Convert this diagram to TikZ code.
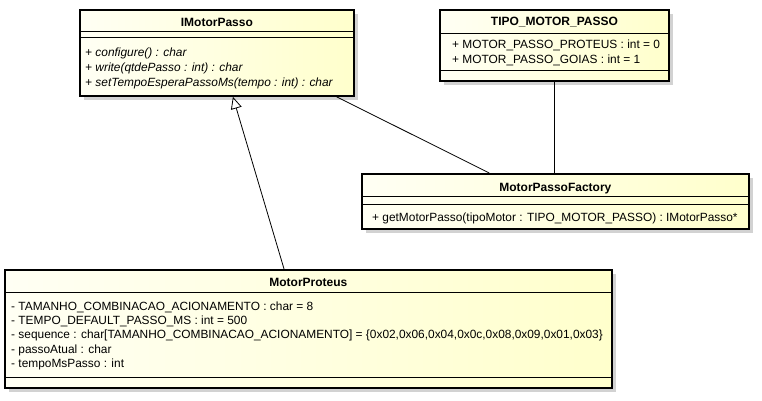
\documentclass[tikz,border=0pt]{standalone}
\usepackage{fontspec}
\setmainfont{Liberation Sans}
\usepackage{tikz}
\usetikzlibrary{arrows.meta, positioning, calc, shadows}
\definecolor{umlpale}{RGB}{255, 255, 244}
\definecolor{umlcream}{RGB}{255, 255, 204}
\definecolor{umlshadow}{RGB}{210, 210, 210}

\begin{document}
\begin{tikzpicture}[x=1pt, y=-1pt,
    classbox/.style={rectangle, draw=black, line width=1.8pt, anchor=north west, inner sep=0pt,
                     left color=umlpale, right color=umlcream,
                     drop shadow={shadow xshift=4pt, shadow yshift=-4pt, fill=umlshadow, opacity=1}},
    classname/.style={font=\fontsize{12}{14}\selectfont\bfseries, inner sep=0pt, text height=8.5pt, text depth=0pt},
    member/.style={font=\fontsize{11.9}{14}\selectfont, anchor=west, inner sep=0pt, text height=8.5pt, text depth=0pt},
    op/.style={member, font=\fontsize{11.9}{14}\selectfont\itshape},
    sep/.style={line width=0.9pt},
    link/.style={line width=0.8pt},
    inherit/.style={line width=0.8pt, -{Triangle[open, length=12pt, width=11pt]}}
]
\fill[white] (0,0) rectangle (762,400);
\useasboundingbox (0,0) rectangle (762,400);

% interface
\node[classbox, minimum width=274pt, minimum height=86pt] (motorPasso) at (79,9) {};
\node[classname] (motorPassoName) at ($(motorPasso.north)+(0,13)$) {IMotorPasso};
\draw[sep] ($(motorPasso.north west)+(0,22)$) -- ($(motorPasso.north east)+(0,22)$);
\draw[sep] ($(motorPasso.north west)+(0,28)$) -- ($(motorPasso.north east)+(0,28)$);
\node[op] (mpOp1) at ($(motorPasso.north west)+(6,43)$) {+ configure() : char};
\node[op] (mpOp2) at ($(motorPasso.north west)+(6,58)$) {+ write(qtdePasso : int) : char};
\node[op] (mpOp3) at ($(motorPasso.north west)+(6,73)$) {+ setTempoEsperaPassoMs(tempo : int) : char};

% enum
\node[classbox, minimum width=229pt, minimum height=71pt] (tipoMotor) at (439,9) {};
\node[classname] (tipoMotorName) at ($(tipoMotor.north)+(0,12.5)$) {TIPO\_MOTOR\_PASSO};
\draw[sep] ($(tipoMotor.north west)+(0,24)$) -- ($(tipoMotor.north east)+(0,24)$);
\draw[sep] ($(tipoMotor.north west)+(0,61)$) -- ($(tipoMotor.north east)+(0,61)$);
\node[member] (tmAttr1) at ($(tipoMotor.north west)+(13,35.5)$) {+ MOTOR\_PASSO\_PROTEUS : int = 0};
\node[member] (tmAttr2) at ($(tipoMotor.north west)+(13,50)$) {+ MOTOR\_PASSO\_GOIAS : int = 1};

% factory
\node[classbox, minimum width=387pt, minimum height=55pt] (factory) at (361,173) {};
\node[classname] (factoryName) at ($(factory.north)+(0,14)$) {MotorPassoFactory};
\draw[sep] ($(factory.north west)+(0,23)$) -- ($(factory.north east)+(0,23)$);
\draw[sep] ($(factory.north west)+(0,31)$) -- ($(factory.north east)+(0,31)$);
\node[member] (factoryOp1) at ($(factory.north west)+(11,44.5)$)
    {+ getMotorPasso(tipoMotor : TIPO\_MOTOR\_PASSO) : IMotorPasso*};

% implementation
\node[classbox, minimum width=607pt, minimum height=118pt] (motorProteus) at (4,269) {};
\node[classname] (motorProteusName) at ($(motorProteus.north)+(0,13.5)$) {MotorProteus};
\draw[sep] ($(motorProteus.north west)+(0,23)$) -- ($(motorProteus.north east)+(0,23)$);
\draw[sep] ($(motorProteus.north west)+(0,108)$) -- ($(motorProteus.north east)+(0,108)$);
\node[member] (mprAttr1) at ($(motorProteus.north west)+(7,37)$) {- TAMANHO\_COMBINACAO\_ACIONAMENTO : char = 8};
\node[member] (mprAttr2) at ($(motorProteus.north west)+(7,51)$) {- TEMPO\_DEFAULT\_PASSO\_MS : int = 500};
\node[member] (mprAttr3) at ($(motorProteus.north west)+(7,65.5)$)
    {- sequence : char[TAMANHO\_COMBINACAO\_ACIONAMENTO] = \{0x02,0x06,0x04,0x0c,0x08,0x09,0x01,0x03\}};
\node[member] (mprAttr4) at ($(motorProteus.north west)+(7,80)$) {- passoAtual : char};
\node[member] (mprAttr5) at ($(motorProteus.north west)+(7,94.5)$) {- tempoMsPasso : int};

\draw[inherit] ($(motorProteus.north west)!0.46!(motorProteus.north east)$)
    -- ($(motorPasso.south west)!0.558!(motorPasso.south east)$);
\draw[link] ($(motorPasso.south west)!0.934!(motorPasso.south east)$)
    -- ($(factory.north west)!0.33!(factory.north east)$);
\draw[link] (tipoMotor.south) -- (tipoMotor.south |- factory.north);

\end{tikzpicture}
\end{document}
